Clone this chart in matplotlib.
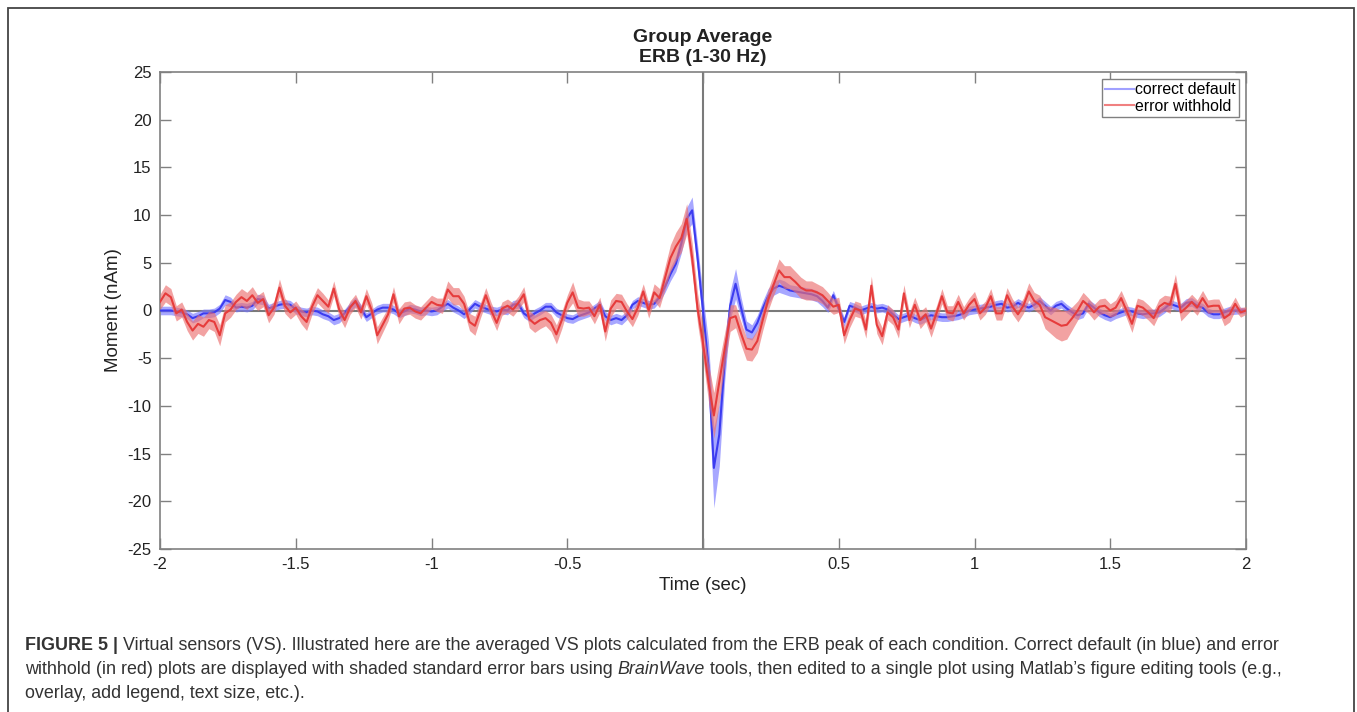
import matplotlib
matplotlib.use('Agg')
import matplotlib.pyplot as plt
import numpy as np
from matplotlib.lines import Line2D
from matplotlib.patches import Rectangle

plt.rcParams['font.family'] = ['Liberation Sans', 'DejaVu Sans']
plt.rcParams['axes.unicode_minus'] = False

# time base, 20 ms steps from -2 to 2 s
time = np.round(np.arange(-2.0, 2.0001, 0.02), 2)

# correct default (blue), moment in nAm
blue_mean = [
    0.0, 0.0, 0.0, -0.1, -0.2, -0.4, -0.8, -0.6, -0.3, -0.3,
    -0.2, 0.2, 1.1, 0.9, 0.3, 0.4, 0.3, 0.5, 1.2, 1.1,
    0.2, 0.4, 0.6, 0.7, 0.6, 0.1, -0.1, -0.2, 0.0, -0.1,
    -0.4, -0.6, -1.0, -0.8, -0.3, 0.4, 0.9, 0.2, -0.7, -0.3,
    0.1, 0.3, 0.3, 0.1, -0.3, -0.1, 0.2, 0.1, -0.1, 0.0,
    -0.1, 0.0, 0.4, 0.7, 0.3, 0.0, -0.4, 0.1, 0.7, 0.4,
    0.2, 0.0, -0.1, 0.1, 0.0, 0.6, 0.7, -0.3, -0.7, -0.3,
    0.0, 0.4, 0.4, -0.2, -0.5, -0.8, -0.9, -0.6, -0.4, -0.2,
    0.2, 0.6, -0.6, -1.0, -0.8, -1.0, -0.5, 0.6, 1.0, 0.8,
    0.6, 0.7, 1.4, 2.5, 3.8, 4.9, 7.0, 9.6, 10.5, 5.5,
    0.0, -5.8, -16.5, -13.0, -5.3, 0.5, 2.8, 0.3, -2.0, -2.3,
    -1.3, 0.2, 1.5, 2.3, 2.6, 2.4, 2.1, 2.0, 1.9, 1.8,
    1.7, 1.5, 1.0, 0.3, 1.6, 0.2, -1.2, 0.5, 0.3, 0.0,
    0.2, 0.4, 0.2, 0.3, 0.1, -0.4, -0.9, -0.7, -0.5, -0.8,
    -1.0, -0.7, -0.5, -0.6, -0.7, -0.7, -0.6, -0.5, -0.3, 0.0,
    0.1, 0.2, 0.3, 0.4, 0.6, 0.7, 0.3, 0.4, 0.8, 0.5,
    0.3, 0.6, 1.0, 0.5, 0.0, 0.5, 0.7, 0.2, -0.2, -0.5,
    -0.3, 0.7, 0.3, -0.2, -0.5, -0.7, -0.4, -0.2, 0.0, -0.1,
    -0.3, -0.4, -0.3, -0.3, -0.2, 0.2, 0.7, 0.5, 0.3, 0.8,
    0.9, 0.5, 0.3, -0.2, -0.4, -0.4, -0.2, 0.0, 0.0, 0.0,
    0.0,
]
blue_se = [
    0.45, 0.45, 0.45, 0.45, 0.45, 0.45, 0.5, 0.5, 0.45, 0.45,
    0.45, 0.45, 0.55, 0.5, 0.45, 0.45, 0.45, 0.45, 0.5, 0.5,
    0.45, 0.45, 0.45, 0.45, 0.45, 0.45, 0.45, 0.45, 0.45, 0.45,
    0.45, 0.45, 0.5, 0.5, 0.45, 0.45, 0.5, 0.45, 0.45, 0.45,
    0.45, 0.45, 0.45, 0.45, 0.45, 0.45, 0.45, 0.45, 0.45, 0.45,
    0.45, 0.45, 0.45, 0.45, 0.45, 0.45, 0.45, 0.45, 0.45, 0.45,
    0.45, 0.45, 0.45, 0.45, 0.45, 0.45, 0.45, 0.45, 0.45, 0.45,
    0.45, 0.45, 0.45, 0.45, 0.45, 0.45, 0.45, 0.45, 0.45, 0.45,
    0.45, 0.45, 0.5, 0.5, 0.5, 0.5, 0.45, 0.45, 0.45, 0.45,
    0.45, 0.45, 0.5, 0.6, 0.7, 0.8, 1.0, 1.2, 1.4, 1.4,
    1.6, 2.6, 4.2, 3.3, 2.1, 1.5, 1.6, 1.1, 0.9, 0.8,
    0.8, 0.8, 0.8, 0.7, 0.7, 0.7, 0.6, 0.6, 0.6, 0.6,
    0.6, 0.6, 0.6, 0.5, 0.5, 0.5, 0.5, 0.45, 0.45, 0.45,
    0.45, 0.45, 0.45, 0.45, 0.45, 0.45, 0.45, 0.45, 0.45, 0.45,
    0.45, 0.45, 0.45, 0.45, 0.45, 0.45, 0.45, 0.45, 0.45, 0.45,
    0.45, 0.45, 0.45, 0.45, 0.45, 0.45, 0.45, 0.45, 0.45, 0.45,
    0.45, 0.45, 0.45, 0.45, 0.45, 0.45, 0.45, 0.45, 0.45, 0.45,
    0.45, 0.45, 0.45, 0.45, 0.45, 0.45, 0.45, 0.45, 0.45, 0.45,
    0.45, 0.45, 0.45, 0.45, 0.45, 0.45, 0.45, 0.45, 0.45, 0.45,
    0.45, 0.45, 0.45, 0.45, 0.45, 0.45, 0.45, 0.45, 0.4, 0.35,
    0.3,
]

# error withhold (red)
red_mean = [
    0.9, 1.8, 1.4, -0.3, 0.1, -1.2, -2.1, -1.4, -1.7, -1.0,
    -1.2, -2.6, -0.3, 0.1, 0.9, 1.4, 1.0, 1.6, 0.8, 1.2,
    -0.5, 0.3, 2.4, 0.5, -0.2, 0.3, -0.6, -1.2, 0.4, 1.6,
    1.0, 0.4, 2.3, 0.1, -1.0, 0.3, 1.0, -0.2, 1.5, 0.0,
    -2.6, -1.5, -0.4, 1.7, -0.6, 0.2, 0.3, -0.1, -0.3, 0.3,
    0.9, 0.6, 0.5, 2.2, 1.5, 1.5, 0.7, -1.2, -1.6, 0.0,
    1.6, 0.0, -1.3, 0.2, 0.5, 0.1, 0.8, 1.7, -0.9, -1.4,
    -1.0, -0.8, -1.3, -2.5, -1.0, 0.8, 1.9, 0.3, 0.2, 0.3,
    -0.6, 0.6, -2.2, 0.2, 1.0, 0.9, -0.1, -0.9, 0.3, 2.0,
    0.0, 1.9, 1.3, 3.4, 5.5, 6.7, 7.6, 9.6, 5.5, 0.2,
    -3.4, -7.5, -11.0, -7.5, -4.0, -0.8, -0.6, -2.4, -4.0, -4.1,
    -3.2, -1.0, 1.1, 2.7, 4.2, 3.5, 3.5, 3.0, 2.4, 2.1,
    2.1, 1.9, 1.6, 1.0, 0.4, 0.6, -2.6, -1.0, 0.2, 0.0,
    -2.0, 2.6, -1.5, -2.7, -0.2, -0.7, -2.0, 1.8, -1.0, 0.6,
    -1.0, -0.4, -1.9, -0.3, 1.5, -0.2, -0.3, 0.9, -0.3, 0.6,
    1.2, -0.3, 0.3, 1.5, -0.3, -0.3, 1.6, 0.4, -0.4, 0.5,
    2.0, 1.0, 0.6, -0.7, -1.0, -1.3, -1.6, -1.5, -0.8, 0.0,
    1.0, 0.5, -0.2, 0.4, 0.5, 0.0, 0.3, 1.3, 0.0, -1.4,
    0.5, 0.3, -0.2, -0.8, 0.4, 0.8, 0.6, 2.8, -0.2, 0.3,
    0.9, 0.3, 1.3, 0.4, 0.5, 0.5, -0.8, -0.4, 0.7, -0.2,
    0.0,
]
red_se = [
    0.8, 0.9, 0.9, 0.8, 0.8, 0.9, 1.0, 1.0, 1.0, 0.9,
    1.0, 1.1, 0.9, 0.8, 0.8, 0.9, 0.9, 0.9, 0.8, 0.8,
    0.8, 0.7, 0.9, 0.8, 0.7, 0.7, 0.8, 0.9, 0.8, 0.8,
    0.8, 0.7, 0.8, 0.8, 0.8, 0.7, 0.7, 0.7, 0.8, 0.8,
    0.9, 0.8, 0.7, 0.8, 0.8, 0.7, 0.7, 0.7, 0.7, 0.7,
    0.7, 0.7, 0.8, 0.9, 0.9, 0.9, 0.8, 0.9, 1.0, 0.8,
    0.8, 0.8, 0.8, 0.7, 0.7, 0.7, 0.7, 0.8, 0.9, 0.9,
    0.9, 0.8, 0.9, 1.0, 0.9, 0.8, 1.1, 0.9, 0.8, 0.7,
    0.8, 0.8, 1.0, 0.9, 0.8, 0.8, 0.8, 0.8, 0.8, 0.8,
    0.8, 0.9, 1.0, 1.2, 1.4, 1.5, 1.5, 1.6, 1.6, 1.6,
    1.7, 2.0, 2.4, 2.2, 1.7, 1.4, 1.2, 1.2, 1.2, 1.2,
    1.2, 1.1, 1.1, 1.1, 1.2, 1.2, 1.2, 1.1, 1.1, 1.0,
    1.0, 0.9, 0.9, 0.9, 0.8, 0.8, 0.9, 0.8, 0.8, 0.8,
    0.9, 1.0, 0.9, 0.9, 0.8, 0.8, 0.9, 0.9, 0.8, 0.8,
    0.9, 0.8, 0.9, 0.8, 0.8, 0.7, 0.8, 0.8, 0.7, 0.7,
    0.8, 0.7, 0.7, 0.8, 0.7, 0.7, 0.8, 0.8, 0.8, 0.8,
    0.9, 0.9, 1.0, 1.2, 1.4, 1.6, 1.6, 1.5, 1.2, 1.0,
    0.9, 0.8, 0.8, 0.8, 0.8, 0.7, 0.8, 0.8, 0.8, 0.9,
    0.8, 0.8, 0.8, 0.8, 0.8, 0.8, 0.9, 1.0, 0.9, 0.8,
    0.8, 0.8, 0.8, 0.7, 0.7, 0.7, 0.8, 0.8, 0.7, 0.5,
    0.4,
]

x_ticks = [-2, -1.5, -1, -0.5, 0, 0.5, 1, 1.5, 2]
x_labels = ['-2', '-1.5', '-1', '-0.5', '', '0.5', '1', '1.5', '2']
y_ticks = [-25, -20, -15, -10, -5, 0, 5, 10, 15, 20, 25]

caption = [
    [('FIGURE 5 | ', 'bold', 'normal'),
     ('Virtual sensors (VS). Illustrated here are the averaged VS plots calculated from the ERB peak of each condition. '
      'Correct default (in blue) and error', 'normal', 'normal')],
    [('withhold (in red) plots are displayed with shaded standard error bars using ', 'normal', 'normal'),
     ('BrainWave', 'normal', 'italic'),
     (' tools, then edited to a single plot using Matlab\u2019s figure editing tools (e.g.,', 'normal', 'normal')],
    [('overlay, add legend, text size, etc.).', 'normal', 'normal')],
]

W, H = 1357, 712
fig = plt.figure(figsize=(W / 100, H / 100), dpi=100)
ax = fig.add_axes([160 / W, 1 - 549 / H, (1246 - 160) / W, (549 - 72) / H])

blue_mean = np.array(blue_mean)
blue_se = np.array(blue_se)
red_mean = np.array(red_mean)
red_se = np.array(red_se)

ax.axhline(0, color='#7a7a7a', lw=1.5, zorder=1)
ax.axvline(0, color='#7a7a7a', lw=1.5, zorder=1)

ax.fill_between(time, blue_mean - blue_se, blue_mean + blue_se, color='#7878ff', alpha=0.65, lw=0, zorder=2)
ax.plot(time, blue_mean, color='#3c3cf0', lw=1.5, zorder=3)
ax.fill_between(time, red_mean - red_se, red_mean + red_se, color='#ec7070', alpha=0.65, lw=0, zorder=4)
ax.plot(time, red_mean, color='#e63c3c', lw=1.5, zorder=5)

ax.set_xlim(-2, 2)
ax.set_ylim(-25, 25)
ax.set_xticks(x_ticks)
ax.set_xticklabels(x_labels)
ax.set_yticks(y_ticks)
ax.tick_params(direction='in', length=8, width=1, color='#808080', top=True, right=True,
               labelsize=12, labelcolor='#222222')
ax.tick_params(axis='x', pad=6)
ax.tick_params(axis='y', pad=6)
for sp in ax.spines.values():
    sp.set_color('#808080')
    sp.set_linewidth(1.2)

ax.set_xlabel('Time (sec)', fontsize=13.5, color='#222222', labelpad=3)
ax.set_ylabel('Moment (nAm)', fontsize=13.5, color='#222222', labelpad=4)
ax.set_title('Group Average\nERB (1-30 Hz)', fontsize=14, fontweight='bold', color='#222222',
             linespacing=1.25, pad=7)

legend_elements = [
    Line2D([0], [0], color='#a0a0ff', lw=1.5, label='correct default'),
    Line2D([0], [0], color='#f08080', lw=1.5, label='error withhold'),
]
leg = ax.legend(handles=legend_elements, loc='upper right', fontsize=11.4, frameon=True,
                fancybox=False, edgecolor='#808080', framealpha=1, borderpad=0.2,
                handlelength=1.8, handletextpad=0.1, labelspacing=0.08,
                borderaxespad=0.45)
leg.get_frame().set_linewidth(1.0)

# outer frame around figure
fig.patches.append(Rectangle((8 / W, -0.01), (1354 - 8) / W, 1.01 - 8 / H, transform=fig.transFigure,
                             fill=False, edgecolor='#444444', lw=1.3, clip_on=False))

# caption, fitted to the original line width
fig.canvas.draw()
renderer = fig.canvas.get_renderer()
line_y = [645, 669, 693]
base = 11.5
probe = []
x = 0
for text, wt, st in caption[0]:
    tt = fig.text(0, 0, text, fontsize=base, fontweight=wt, fontstyle=st)
    x += tt.get_window_extent(renderer).width
    probe.append(tt)
for tt in probe:
    tt.remove()
size = base * (1281 - 25) / x

for row, y in zip(caption, line_y):
    x_px = 25
    for text, wt, st in row:
        tt = fig.text(x_px / W, 1 - y / H, text, fontsize=size, fontweight=wt, fontstyle=st,
                      color='#333333', va='center', ha='left')
        x_px += tt.get_window_extent(renderer).width

fig.savefig('out.png', dpi=100)
